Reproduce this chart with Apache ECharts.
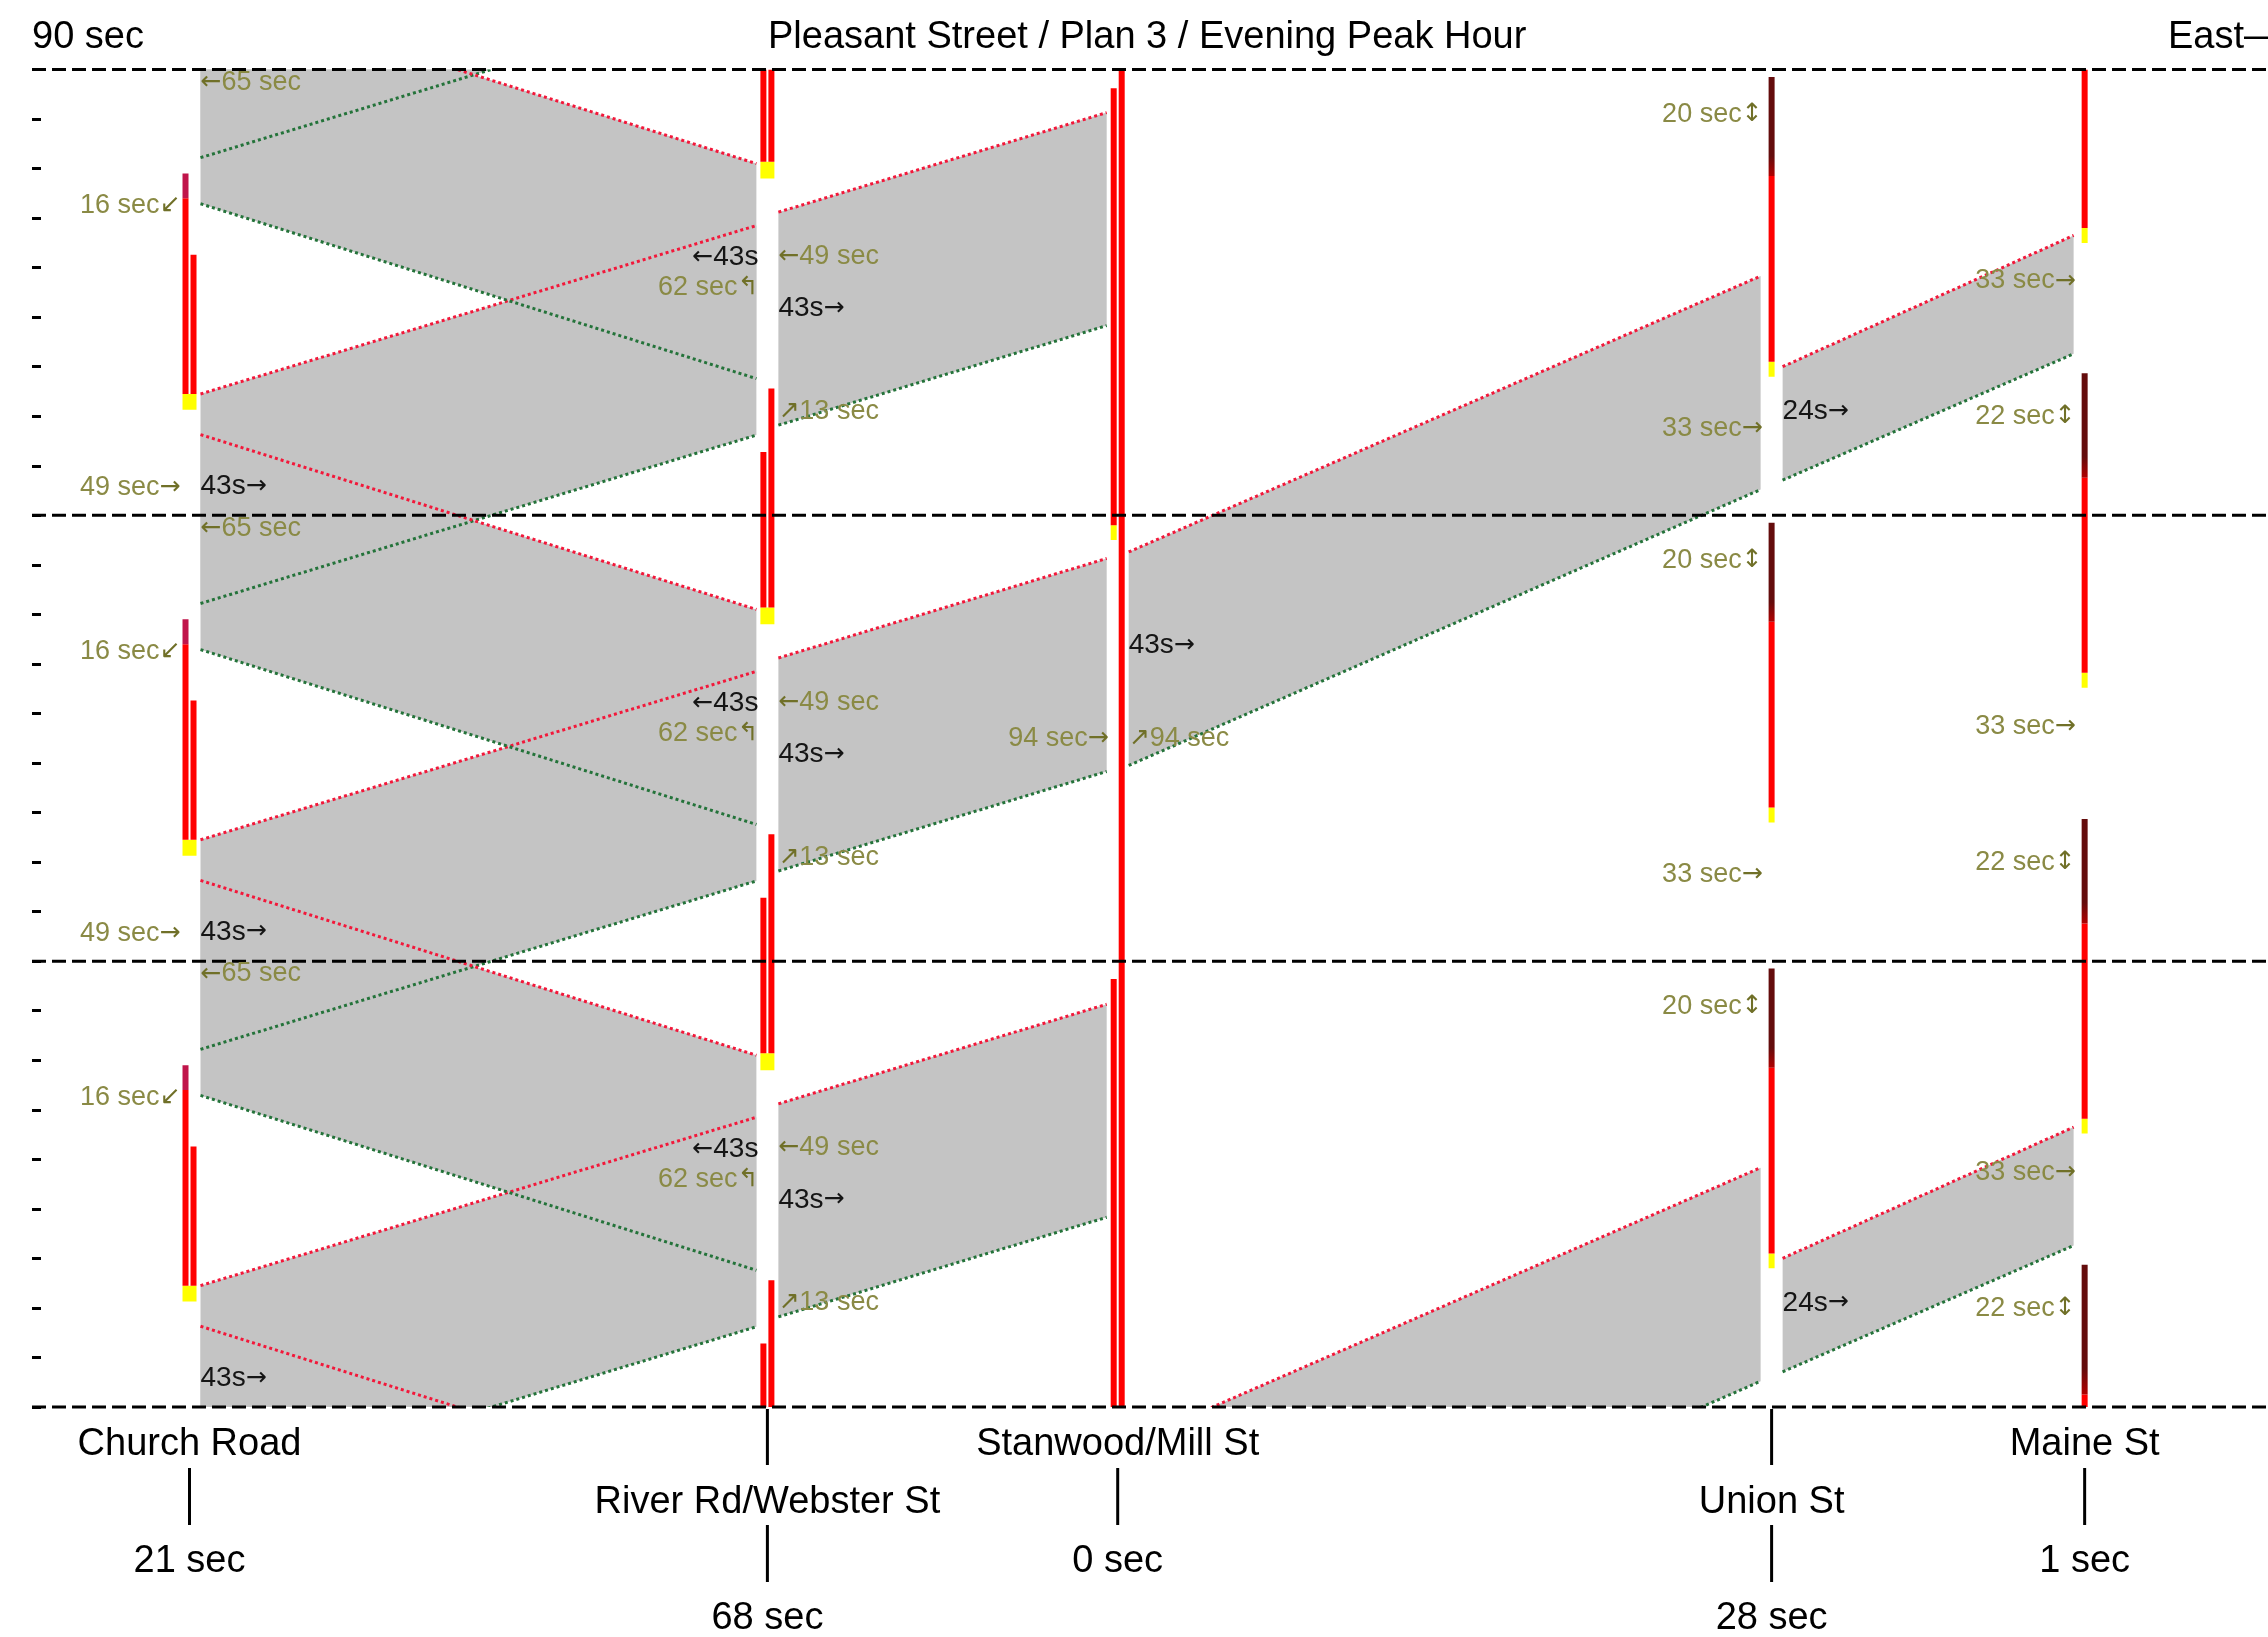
<!DOCTYPE html>
<html>
<head>
<meta charset="utf-8">
<title>Pleasant Street / Plan 3 / Evening Peak Hour</title>
<script src="https://cdn.jsdelivr.net/npm/echarts@6/dist/echarts.min.js"></script>
<style>
  html, body { margin: 0; padding: 0; background: #fff; }
  #chart { width: 2268px; height: 1637px; }
</style>
</head>
<body>
<div id="chart"></div>
<script>
// intersections along Pleasant Street (distance in ft, estimated)
const stations = ['Church Road', 'River Rd/Webster St', 'Stanwood/Mill St', 'Union St', 'Maine St'];
const stationDist = [317, 1480, 2185, 3501, 4131];
const stationOffset = ['21 sec', '68 sec', '0 sec', '28 sec', '1 sec'];
const nameRow = [0, 1, 0, 1, 0];

const cycleLines = [0, 90, 180, 270];

// green bands: [left station, right station, start at left, end at left, start at right, end at right] (sec)
const bands = [
  // Church -> River eastbound
  [0, 1, -17.8, 24.5, 16.2, 58.5],
  [0, 1, 72.2, 114.5, 106.2, 148.5],
  [0, 1, 162.2, 204.5, 196.2, 238.5],
  [0, 1, 252.2, 294.5, 286.2, 328.5],
  // River -> Church westbound
  [0, 1, -27.1, 16.3, -62.4, -19.0],
  [0, 1, 62.9, 106.3, 27.6, 71.0],
  [0, 1, 152.9, 196.3, 117.6, 161.0],
  [0, 1, 242.9, 286.3, 207.6, 251.0],
  // River -> Stanwood eastbound
  [1, 2, 18.2, 61.2, 38.3, 81.3],
  [1, 2, 108.2, 151.2, 128.3, 171.3],
  [1, 2, 198.2, 241.2, 218.3, 261.3],
  // Stanwood -> Union eastbound
  [2, 3, -50.5, -7.4, 5.2, 48.3],
  [2, 3, 129.5, 172.6, 185.2, 228.3],
  // Union -> Maine eastbound
  [3, 4, 7.1, 30.0, 32.6, 56.5],
  [3, 4, 187.1, 210.0, 212.6, 236.5]
];

// signal display per intersection: [column, from, to, state]
// state: r red, y yellow, d dark red, c crimson
const churchSignal = [
  ['B', 21.3, 24.5, 'y'], ['L', 24.5, 64, 'r'], ['L', 64, 69, 'c'], ['R', 24.5, 52.6, 'r'],
  ['B', 111.3, 114.5, 'y'], ['L', 114.5, 154, 'r'], ['L', 154, 159, 'c'], ['R', 114.5, 142.6, 'r'],
  ['B', 201.3, 204.5, 'y'], ['L', 204.5, 244, 'r'], ['L', 244, 249, 'c'], ['R', 204.5, 232.6, 'r']
];
const riverSignal = [
  ['L', 0, 12.8, 'r'], ['R', 0, 25.6, 'r'],
  ['B', 68, 71.4, 'y'], ['L', 71.4, 102.8, 'r'], ['R', 71.4, 115.6, 'r'],
  ['B', 158, 161.4, 'y'], ['L', 161.4, 192.8, 'r'], ['R', 161.4, 205.6, 'r'],
  ['B', 248, 251.4, 'y'], ['L', 251.4, 270, 'r'], ['R', 251.4, 270, 'r']
];
const stanwoodSignal = [
  ['R', 0, 270, 'r'], ['L', 0, 86.4, 'r'], ['L', 175, 178, 'y'], ['L', 178, 266.2, 'r']
];
const unionSignal = [
  ['S', 28, 31, 'y'], ['S', 31, 68.5, 'r'], ['S', 68.5, 88.5, 'd'],
  ['S', 118, 121, 'y'], ['S', 121, 158.5, 'r'], ['S', 158.5, 178.5, 'd'],
  ['S', 208, 211, 'y'], ['S', 211, 248.5, 'r'], ['S', 248.5, 268.5, 'd']
];
const maineSignal = [
  ['S', 0, 2.5, 'r'], ['S', 2.5, 28.7, 'd'],
  ['S', 55.2, 58.2, 'y'], ['S', 58.2, 97.6, 'r'], ['S', 97.6, 118.7, 'd'],
  ['S', 145.2, 148.2, 'y'], ['S', 148.2, 187.6, 'r'], ['S', 187.6, 208.7, 'd'],
  ['S', 235, 238, 'y'], ['S', 238, 270, 'r']
];

// notes on the diagram: [station, time, text, side, kind]  (kind o = olive, k = black)
const notes = [
  [0, 267.4, '←65 sec', 'R', 'o'], [0, 242.5, '16 sec↙', 'L', 'o'], [0, 185.6, '49 sec→', 'L', 'o'], [0, 185.9, '43s→', 'R', 'k'],
  [0, 177.4, '←65 sec', 'R', 'o'], [0, 152.5, '16 sec↙', 'L', 'o'], [0, 95.6, '49 sec→', 'L', 'o'], [0, 95.9, '43s→', 'R', 'k'],
  [0, 87.4, '←65 sec', 'R', 'o'], [0, 62.5, '16 sec↙', 'L', 'o'], [0, 5.8, '43s→', 'R', 'k'],
  [1, 232.0, '←43s', 'L', 'k'], [1, 225.9, '62 sec↰', 'L', 'o'], [1, 232.3, '←49 sec', 'R', 'o'], [1, 221.8, '43s→', 'R', 'k'], [1, 201.0, '↗13 sec', 'R', 'o'],
  [1, 142.0, '←43s', 'L', 'k'], [1, 135.9, '62 sec↰', 'L', 'o'], [1, 142.3, '←49 sec', 'R', 'o'], [1, 131.8, '43s→', 'R', 'k'], [1, 111.0, '↗13 sec', 'R', 'o'],
  [1, 52.0, '←43s', 'L', 'k'], [1, 45.9, '62 sec↰', 'L', 'o'], [1, 52.3, '←49 sec', 'R', 'o'], [1, 41.8, '43s→', 'R', 'k'], [1, 21.0, '↗13 sec', 'R', 'o'],
  [2, 153.7, '43s→', 'R', 'k'], [2, 135.0, '94 sec→', 'L', 'o'], [2, 135.0, '↗94 sec', 'R', 'o'],
  [3, 260.9, '20 sec↕', 'L', 'o'], [3, 170.9, '20 sec↕', 'L', 'o'], [3, 80.9, '20 sec↕', 'L', 'o'],
  [3, 197.5, '33 sec→', 'L', 'o'], [3, 107.5, '33 sec→', 'L', 'o'],
  [3, 201.0, '24s→', 'R', 'k'], [3, 21.0, '24s→', 'R', 'k'],
  [4, 227.3, '33 sec→', 'L', 'o'], [4, 137.3, '33 sec→', 'L', 'o'], [4, 47.3, '33 sec→', 'L', 'o'],
  [4, 199.9, '22 sec↕', 'L', 'o'], [4, 109.9, '22 sec↕', 'L', 'o'], [4, 19.9, '22 sec↕', 'L', 'o']
];

const signals = [churchSignal, riverSignal, stanwoodSignal, unionSignal, maineSignal];
const signalRows = [];
signals.forEach((list, s) => list.forEach(r => signalRows.push([s].concat(r))));

const FONT = '"Liberation Sans", Arial, sans-serif';
const OLIVE = '#8a8a45';
const GAP = 11;
const stateColor = { r: '#ff0000', y: '#ffff00', d: '#640c0c', c: '#c0144a' };
const colX = { L: [-7, -1], R: [1, 7], B: [-7, 7], S: [-3, 3] };

const chart = echarts.init(document.getElementById('chart'));

const xOf = (api, s) => api.coord([stationDist[s], 0])[0];
const yOf = (api, t) => api.coord([0, t])[1];
const idx = arr => arr.map((_, i) => i);

function textEl(x, y, text, font, fill, align, rich) {
  return {
    type: 'text', x: x, y: y,
    style: { text: text, font: font, fill: fill, rich: rich, align: align, textAlign: align, verticalAlign: 'middle', textVerticalAlign: 'middle' }
  };
}

const option = {
  animation: false,
  backgroundColor: '#fff',
  grid: { left: 32, right: 0, top: 69.5, bottom: 230, outerBoundsMode: 'none' },
  xAxis: { type: 'value', min: 0, max: 4500, show: false },
  yAxis: {
    type: 'value', min: 0, max: 270, interval: 10,
    axisLine: { show: false }, axisLabel: { show: false }, splitLine: { show: false },
    axisTick: { show: true, inside: true, length: 9, lineStyle: { color: '#000', width: 3 } }
  },
  graphic: [
    { type: 'text', left: 32, top: 19, style: { text: '90 sec', font: '38px ' + FONT, fill: '#000' } },
    { type: 'text', left: 768, top: 19, style: { text: 'Pleasant Street / Plan 3 / Evening Peak Hour', font: '38px ' + FONT, fill: '#000' } },
    { type: 'text', left: 2168, top: 19, style: { text: 'East—', font: '38px ' + FONT, fill: '#000' } }
  ],
  series: [
    {
      // gray green-band areas
      type: 'custom', clip: true, z: 1, data: idx(bands),
      renderItem(params, api) {
        const b = bands[params.dataIndex];
        const xl = xOf(api, b[0]) + GAP, xr = xOf(api, b[1]) - GAP;
        return {
          type: 'polygon',
          shape: { points: [[xl, yOf(api, b[2])], [xr, yOf(api, b[4])], [xr, yOf(api, b[5])], [xl, yOf(api, b[3])]] },
          style: { fill: '#c4c4c4' }
        };
      }
    },
    {
      // band edges: start of green (green dots) and end of green (red dots)
      type: 'custom', clip: true, z: 2, data: idx(bands),
      renderItem(params, api) {
        const b = bands[params.dataIndex];
        const xl = xOf(api, b[0]) + GAP, xr = xOf(api, b[1]) - GAP;
        return {
          type: 'group',
          children: [
            { type: 'line', shape: { x1: xl, y1: yOf(api, b[2]), x2: xr, y2: yOf(api, b[4]) },
              style: { stroke: '#24733a', lineWidth: 3, lineDash: [3, 3] } },
            { type: 'line', shape: { x1: xl, y1: yOf(api, b[3]), x2: xr, y2: yOf(api, b[5]) },
              style: { stroke: '#f2183a', lineWidth: 3, lineDash: [3, 3] } }
          ]
        };
      }
    },
    {
      // signal state bars
      type: 'custom', clip: true, z: 3, data: idx(signalRows),
      renderItem(params, api) {
        const r = signalRows[params.dataIndex];
        const x = xOf(api, r[0]);
        const c = colX[r[1]];
        const yTop = yOf(api, r[3]), yBot = yOf(api, r[2]);
        let fill = stateColor[r[4]];
        if (r[4] === 'd') {
          fill = new echarts.graphic.LinearGradient(0, 0, 0, 1, [
            { offset: 0, color: stateColor.d }, { offset: 0.8, color: stateColor.d }, { offset: 1, color: '#b00000' }
          ]);
        }
        return { type: 'rect', shape: { x: x + c[0], y: yTop, width: c[1] - c[0], height: yBot - yTop }, style: { fill: fill } };
      }
    },
    {
      // cycle boundaries
      type: 'custom', clip: false, z: 4, data: idx(cycleLines),
      renderItem(params, api) {
        const t = cycleLines[params.dataIndex];
        const p0 = api.coord([0, t]), p1 = api.coord([4500, t]);
        return { type: 'line', shape: { x1: p0[0], y1: p0[1], x2: p1[0], y2: p1[1] },
          style: { stroke: '#000', lineWidth: 3, lineDash: [14, 6] } };
      }
    },
    {
      // notes on the diagram
      type: 'custom', clip: false, z: 5, data: idx(notes),
      renderItem(params, api) {
        const n = notes[params.dataIndex];
        const left = n[3] === 'L';
        const black = n[4] === 'k';
        const x = xOf(api, n[0]) + (left ? -9 : 11);
        const font = (black ? '28px ' : '27px ') + FONT;
        const text = n[2].replace(/([←→↗↙↰↕])/g, '{a|$1}');
        const rich = { a: { font: '25px "DejaVu Sans"', fill: black ? '#151515' : '#707028' } };
        return textEl(x, yOf(api, n[1]), text, font, black ? '#151515' : OLIVE, left ? 'right' : 'left', rich);
      }
    },
    {
      // intersection names and offsets
      type: 'custom', clip: false, z: 5, data: idx(stations),
      renderItem(params, api) {
        const s = params.dataIndex;
        const x = xOf(api, s), y0 = yOf(api, 0);
        const font = '38px ' + FONT;
        const tick = (a, b) => ({ type: 'line', shape: { x1: x, y1: y0 + a, x2: x, y2: y0 + b }, style: { stroke: '#000', lineWidth: 3 } });
        const kids = nameRow[s] === 0
          ? [textEl(x, y0 + 38, stations[s], font, '#000', 'center'), tick(61, 118), textEl(x, y0 + 155, stationOffset[s], font, '#000', 'center')]
          : [tick(2, 58), textEl(x, y0 + 96, stations[s], font, '#000', 'center'), tick(118, 175), textEl(x, y0 + 212, stationOffset[s], font, '#000', 'center')];
        return { type: 'group', children: kids };
      }
    }
  ]
};

chart.setOption(option);
</script>
</body>
</html>
